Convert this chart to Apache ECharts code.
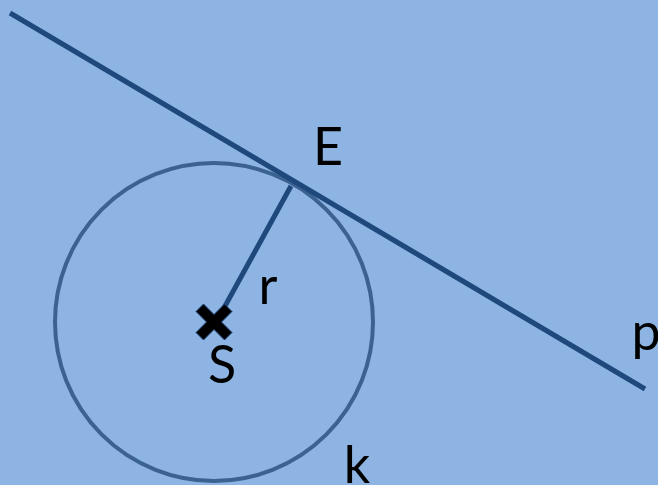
<!DOCTYPE html>
<html>
<head>
<meta charset="utf-8">
<script src="https://cdn.jsdelivr.net/npm/echarts@6/dist/echarts.min.js"></script>
<style>
  html, body { margin: 0; padding: 0; background: #8db4e2; }
  #main { width: 658px; height: 485px; }
</style>
</head>
<body>
<div id="main"></div>
<script>
// scene in pixel-like units, y grows downward
var tangentLine = [[10, 13], [645, 389]]
var radiusLine = [[291, 186], [219, 317]]
var circles = [[214, 322, 159]]
var centerPoint = [[214, 322]]
var labels = [
  ['E', 328, 148],
  ['r', 268, 287],
  ['S', 222, 366],
  ['p', 646, 333],
  ['k', 357, 466]
]

var crossPath = 'path://M0,5 L5,0 L12,7 L19,0 L24,5 L17,12 L24,19 L19,24 L12,17 L5,24 L0,19 L7,12 Z'

var chart = echarts.init(document.getElementById('main'))

chart.setOption({
  backgroundColor: '#8db4e2',
  animation: false,
  grid: { left: 0, right: 0, top: 0, bottom: 0 },
  xAxis: { type: 'value', min: 0, max: 658, show: false },
  yAxis: { type: 'value', min: 0, max: 485, inverse: true, show: false },
  series: [
    {
      type: 'custom',
      data: circles,
      renderItem: function (params, api) {
        var c = api.coord([api.value(0), api.value(1)])
        var r = api.size([api.value(2), 0])[0]
        return {
          type: 'circle',
          shape: { cx: c[0], cy: c[1], r: r },
          style: { fill: 'none', stroke: '#3c6291', lineWidth: 4 }
        }
      },
      silent: true,
      z: 1
    },
    {
      type: 'line',
      data: tangentLine,
      symbol: 'none',
      lineStyle: { color: '#1f497d', width: 5 },
      z: 2
    },
    {
      type: 'line',
      data: radiusLine,
      symbol: 'none',
      lineStyle: { color: '#1f497d', width: 5 },
      z: 2
    },
    {
      type: 'scatter',
      data: centerPoint,
      symbol: crossPath,
      symbolSize: 36,
      itemStyle: { color: '#000', borderColor: '#1f497d', borderWidth: 1, opacity: 1 },
      z: 3
    },
    {
      type: 'scatter',
      data: labels.map(function (d) { return { name: d[0], value: [d[1], d[2]] } }),
      symbolSize: 0,
      itemStyle: { opacity: 1 },
      label: {
        show: true,
        position: 'inside',
        formatter: '{b}',
        color: '#000',
        opacity: 1,
        textBorderWidth: 0,
        fontFamily: 'Lato',
        fontSize: 52
      },
      z: 4
    }
  ]
})
</script>
</body>
</html>
